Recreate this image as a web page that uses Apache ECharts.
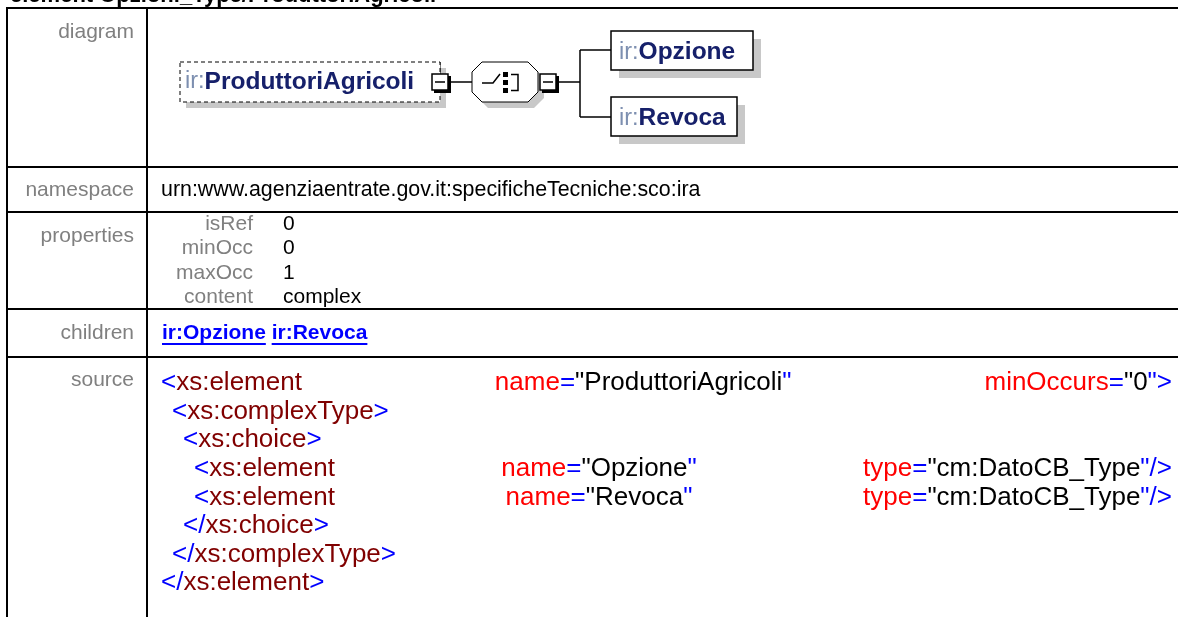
<!DOCTYPE html>
<html><head><meta charset="utf-8">
<script src="https://cdn.jsdelivr.net/npm/echarts@6/dist/echarts.min.js"></script>
<style>html,body{margin:0;padding:0;background:#fff;overflow:hidden}#c{width:1178px;height:617px}</style>
</head><body><div id="c"></div>
<script>
// ---- content ----
const titleText = 'element Opzioni_Type/ProduttoriAgricoli';
const rowLabels = ['diagram', 'namespace', 'properties', 'children', 'source'];
const namespaceValue = 'urn:www.agenziaentrate.gov.it:specificheTecniche:sco:ira';
const propNames = ['isRef', 'minOcc', 'maxOcc', 'content'];
const propValues = ['0', '0', '1', 'complex'];
const childNames = ['ir:Opzione', 'ir:Revoca'];
const nsPrefix = 'ir:';
const rootName = 'ProduttoriAgricoli';
const diagramChildren = ['Opzione', 'Revoca'];
// source code lines: [indentLevel, columns]; each column = list of [kind, text]
const sourceLines = [
  [0, [[['b', '<'], ['e', 'xs:element']], [['a', 'name'], ['b', '='], ['v', '"ProduttoriAgricoli'], ['b', '"']], [['a', 'minOccurs'], ['b', '='], ['v', '"0'], ['b', '">']]]],
  [1, [[['b', '<'], ['e', 'xs:complexType'], ['b', '>']]]],
  [2, [[['b', '<'], ['e', 'xs:choice'], ['b', '>']]]],
  [3, [[['b', '<'], ['e', 'xs:element']], [['a', 'name'], ['b', '='], ['v', '"Opzione'], ['b', '"']], [['a', 'type'], ['b', '='], ['v', '"cm:DatoCB_Type'], ['b', '"/>']]]],
  [3, [[['b', '<'], ['e', 'xs:element']], [['a', 'name'], ['b', '='], ['v', '"Revoca'], ['b', '"']], [['a', 'type'], ['b', '='], ['v', '"cm:DatoCB_Type'], ['b', '"/>']]]],
  [2, [[['b', '</'], ['e', 'xs:choice'], ['b', '>']]]],
  [1, [[['b', '</'], ['e', 'xs:complexType'], ['b', '>']]]],
  [0, [[['b', '</'], ['e', 'xs:element'], ['b', '>']]]]
];

// ---- style / layout ----
const FONT = "'Liberation Sans', Arial, Helvetica, sans-serif";
const tokColor = { b: '#0000ff', e: '#800000', a: '#ff0000', v: '#000000' };
const LBL = '#808080';
const ctx = document.createElement('canvas').getContext('2d');
function tw(t, size, weight) { ctx.font = (weight || 'normal') + ' ' + size + 'px ' + FONT; return ctx.measureText(t).width; }

const W = 1178;
const LEFT = 7, DIV = 147;
const rowY = [8, 167, 212, 309, 357, 640];
const labelRight = 134;
const els = [];

function txt(x, y, s, size, color, opt) {
  opt = opt || {};
  els.push({ type: 'text', x: x, y: y, silent: true, z: opt.z || 10,
    style: { text: s, fill: color, font: (opt.weight || 'normal') + ' ' + size + 'px ' + FONT,
      align: opt.align || 'left', verticalAlign: opt.va || 'middle' } });
}
function line(x1, y1, x2, y2, w, color, dash) {
  els.push({ type: 'line', silent: true, z: 5, shape: { x1: x1, y1: y1, x2: x2, y2: y2 },
    style: { stroke: color || '#000', lineWidth: w || 1, lineDash: dash || null } });
}
function rect(x, y, w, h, fill, stroke, lw, dash, z) {
  els.push({ type: 'rect', silent: true, z: z || 5, shape: { x: x, y: y, width: w, height: h },
    style: { fill: fill || 'none', stroke: stroke || null, lineWidth: lw || 1, lineDash: dash || null } });
}

// title (cut off at the top)
txt(10, -4, titleText, 22, '#000', { weight: 'bold' });

// table grid
rowY.slice(0, 5).forEach(function (y) { line(LEFT - 1, y, W, y, 2); });
line(LEFT, rowY[0] - 1, LEFT, 617, 2);
line(DIV, rowY[0] - 1, DIV, 617, 2);

// row labels
const labelY = [32, 190, 236, 333, 380];
rowLabels.forEach(function (l, i) { txt(labelRight, labelY[i], l, 21, LBL, { align: 'right' }); });

// namespace
txt(161, 190, namespaceValue, 21.4, '#000');

// properties
propNames.forEach(function (n, i) {
  const y = 224 + i * 24.5;
  txt(253, y, n, 21, LBL, { align: 'right' });
  txt(283, y, propValues[i], 21, '#000');
});

// children links
(function () {
  let x = 162;
  childNames.forEach(function (c) {
    const w = tw(c, 21, 'bold');
    txt(x, 333, c, 21, '#0000ff', { weight: 'bold' });
    line(x, 344, x + w, 344, 2, '#0000ff');
    x += w + tw(' ', 21, 'bold');
  });
})();

// source code
(function () {
  const size = 26, right = 1172, x0 = 161, indent = 11;
  sourceLines.forEach(function (ln, i) {
    const y = 383 + i * 28.6;
    const start = x0 + ln[0] * indent;
    const cols = ln[1];
    const widths = cols.map(function (col) { return col.reduce(function (s, t) { return s + tw(t[1], size); }, 0); });
    let gap = 0;
    if (cols.length > 1) {
      gap = (right - start - widths.reduce(function (a, b) { return a + b; }, 0)) / (cols.length - 1);
    }
    let x = start;
    cols.forEach(function (col) {
      col.forEach(function (t) { txt(x, y, t[1], size, tokColor[t[0]]); x += tw(t[1], size); });
      x += gap;
    });
  });
})();

// ---- diagram ----
const SH = '#c8c8c8';
const nameSize = 24.5;
function nameLabel(x, y, name) {
  txt(x, y, nsPrefix, nameSize - 1, '#7d8fb0', { z: 20 });
  txt(x + tw(nsPrefix, nameSize - 1), y, name, nameSize, '#16206a', { weight: 'bold', z: 20 });
}
// root element: dashed box with shadow
rect(186, 68, 260, 40, SH, null, 1, null, 3);
rect(180, 62, 260, 40, '#fff', '#000', 1, [4, 3], 6);
nameLabel(185, 82, rootName);
// minus box
function minusBox(cx, cy) {
  rect(cx - 6, cy - 6, 17, 17, '#000', null, 1, null, 7);
  rect(cx - 8, cy - 8, 16, 16, '#fff', '#000', 1.5, null, 8);
  line(cx - 5, cy, cx + 5, cy, 1.5, '#000');
  els[els.length - 1].z = 9;
}
line(440, 62, 440, 74, 1, '#000');
minusBox(440, 82);
line(449, 82, 472, 82, 1.5, '#000');
// octagon (choice compositor)
function octPts(x0, y0, x1, y1, c) {
  return [[x0 + c, y0], [x1 - c, y0], [x1, y0 + c], [x1, y1 - c], [x1 - c, y1], [x0 + c, y1], [x0, y1 - c], [x0, y0 + c]];
}
els.push({ type: 'polygon', silent: true, z: 3, shape: { points: octPts(478, 68, 544, 108, 10) }, style: { fill: SH } });
els.push({ type: 'polygon', silent: true, z: 6, shape: { points: octPts(472, 62, 538, 102, 10) }, style: { fill: '#fff', stroke: '#000', lineWidth: 1 } });
els.push({ type: 'polyline', silent: true, z: 9, shape: { points: [[482, 83], [493, 83], [500, 74]] }, style: { stroke: '#000', lineWidth: 1.5, fill: 'none' } });
[72, 80, 88].forEach(function (y) { rect(503, y, 5, 5, '#000', null, 1, null, 9); });
els.push({ type: 'polyline', silent: true, z: 9, shape: { points: [[511, 74.5], [518, 74.5], [518, 90.5], [511, 90.5]] }, style: { stroke: '#000', lineWidth: 1.5, fill: 'none' } });
line(518, 82.5, 527, 82.5, 1.5, '#000');
minusBox(548, 82);
line(557, 82, 580, 82, 1.5, '#000');
// branches
line(580, 50, 580, 117, 1.5, '#000');
line(580, 50, 611, 50, 1.5, '#000');
line(580, 117, 611, 117, 1.5, '#000');
// child boxes
function childBox(x, y, w, h, name) {
  rect(x + 8, y + 8, w, h, SH, null, 1, null, 3);
  rect(x, y, w, h, '#fff', '#000', 1.5, null, 6);
  [3, 6, 9].forEach(function (d) { line(x + 3, y + d, x + 10, y + d, 1.2, '#000'); });
  nameLabel(x + 8, y + h / 2 + 2, name);
}
childBox(611, 31, 142, 39, diagramChildren[0]);
childBox(611, 97, 126, 39, diagramChildren[1]);

const chart = echarts.init(document.getElementById('c'), null, { renderer: 'canvas' });
chart.setOption({ animation: false, backgroundColor: '#fff', graphic: { elements: els } });
</script></body></html>
